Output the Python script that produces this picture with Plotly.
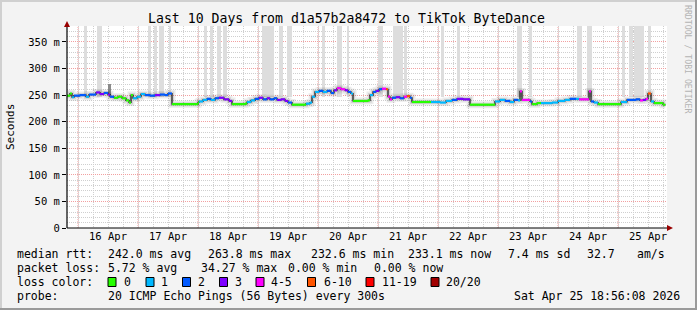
import plotly.graph_objects as go
import pandas as pd

# ---------------- data ----------------
BASE = pd.Timestamp("2026-04-16 00:00")      # hour 0
END_H = 234.93                               # Sat Apr 25 18:56
VIEW_H = (-4.4, 235.6)

# median rtt steps: start hour (from Apr 16 00:00), value (ms), loss class
seg_hour = [-5.1, -3.2, -2.4, -1.6, 0.8, 3.2, 4.4, 7.2, 8.8, 10.4, 12.0, 12.8, 14.4, 16.0, 17.6,
            19.2, 20.4, 21.2, 22.0, 23.6, 25.2, 26.8, 28.8, 30.8, 32.8, 34.8, 36.0, 37.6, 48.0,
            48.4, 50.0, 51.6, 53.2, 54.8, 56.4, 58.4, 60.4, 61.6, 66.8, 67.6, 69.2, 70.8, 72.4,
            74.0, 75.6, 76.8, 78.4, 79.6, 81.2, 82.8, 84.0, 85.6, 91.2, 92.8, 93.6, 94.8, 96.4,
            98.0, 99.6, 101.2, 102.4, 103.6, 105.2, 106.8, 108.0, 109.2, 110.0, 116.0, 116.8,
            118.0, 119.2, 120.4, 121.6, 123.2, 124.0, 124.8, 125.6, 127.2, 128.8, 130.4, 131.6,
            132.8, 133.6, 141.2, 144.8, 147.2, 149.6, 151.6, 154.0, 156.8, 166.8, 168.8, 170.8,
            172.8, 174.4, 176.0, 176.8, 177.6, 180.8, 181.6, 183.6, 185.2, 189.6, 192.0, 194.8,
            196.8, 199.2, 200.4, 204.4, 205.2, 206.4, 208.0, 216.0, 217.2, 219.6, 223.2, 224.8,
            226.0, 227.2, 228.0, 229.2, 230.4, 232.8, 234.0]
seg_ms = [249, 253, 246, 249, 250, 247, 251, 255, 252, 254, 251, 247, 245, 247, 244,
          240, 236, 250, 244, 247, 252, 250, 249, 250, 251, 250, 253, 233, 236,
          238, 241, 243, 241, 244, 245, 242, 239, 233, 234, 237, 240, 243, 245,
          242, 244, 242, 244, 241, 242, 239, 236, 232, 234, 236, 247, 256, 258,
          256, 258, 254, 259, 263, 261, 259, 256, 253, 239, 240, 250,
          256, 258, 261, 262, 261, 247, 242, 245, 246, 244, 247, 248,
          245, 237, 237, 236, 239, 241, 243, 242, 232, 238, 241, 239,
          237, 241, 240, 257, 241, 238, 233, 235, 235, 236, 239, 241,
          243, 243, 242, 257, 238, 236, 233, 233, 237, 241, 242, 240,
          241, 243, 253, 238, 235, 235, 232]
seg_loss = [0, 0, 1, 2, 2, 1, 2, 3, 3, 2, 3, 2, 0, 0, 0,
            0, 0, 0, 1, 1, 1, 2, 2, 3, 2, 2, 2, 0, 0,
            1, 1, 2, 1, 2, 3, 3, 3, 0, 0, 1, 1, 2, 3,
            2, 3, 2, 2, 3, 3, 3, 2, 0, 1, 1, 1, 1, 2,
            1, 2, 2, 3, 4, 4, 3, 2, 1, 0, 0, 1,
            2, 3, 2, 4, 5, 4, 4, 2, 3, 2, 4, 5,
            2, 0, 1, 1, 1, 2, 3, 3, 0, 1, 1, 2,
            1, 2, 1, 4, 4, 2, 0, 0, 1, 1, 1, 1,
            2, 1, 4, 4, 2, 1, 0, 0, 1, 2, 2, 4,
            3, 4, 5, 1, 0, 0, 0]
assert len(seg_hour) == len(seg_ms) == len(seg_loss)

# tall smoke columns (hours from Apr 16 00:00)
smoke_start = [2.4, 7.6, 28.0, 30.4, 32.4, 36.4, 50.4, 52.8, 55.6, 58.0, 73.6, 80.4, 83.6, 97.6,
               103.6, 107.6, 120.0, 126.0, 130.4, 145.2, 151.6, 175.6, 180.4, 199.6, 203.6,
               217.6, 220.4, 222.4, 228.0]
smoke_end = [3.6, 9.6, 29.2, 31.6, 34.4, 37.2, 51.6, 54.0, 57.2, 59.6, 78.4, 82.0, 85.6, 98.8,
             105.6, 108.4, 122.0, 130.0, 131.6, 146.4, 152.8, 177.6, 181.6, 201.6, 205.6,
             218.8, 222.0, 226.4, 229.2]
smoke_floor = 246
smoke_ceiling = 380
spike_hours = [12.0, 13.2]
spike_ms = [250, 270]

loss_labels = ["0", "1", "2", "3", "4-5", "6-10", "11-19", "20/20"]
loss_colors = ["#26ff00", "#00b8ff", "#0059ff", "#7e00ff", "#ff00ff", "#ff5500", "#ff0000", "#a10000"]

y_ticks = [0, 50, 100, 150, 200, 250, 300, 350]
y_ticktext = ["0", "50 m", "100 m", "150 m", "200 m", "250 m", "300 m", "350 m"]
day_labels = ["16 Apr", "17 Apr", "18 Apr", "19 Apr", "20 Apr", "21 Apr", "22 Apr", "23 Apr", "24 Apr", "25 Apr"]

title_text = "Last 10 Days from d1a57b2a8472 to TikTok ByteDance"
row1 = ["median rtt:", "242.0 ms avg", "263.8 ms max", "232.6 ms min", "233.1 ms now", "7.4 ms sd", "32.7", "am/s"]
row2 = ["packet loss:", "5.72 % avg", "34.27 % max", "0.00 % min", "0.00 % now"]
row4 = ["probe:", "20 ICMP Echo Pings (56 Bytes) every 300s", "Sat Apr 25 18:56:08 2026"]

# ---------------- layout constants ----------------
W, H = 697, 310
ML, MR, MT, MB = 67, 30, 26, 82
PW, PH = W - ML - MR, H - MT - MB
FONT = "DejaVu Sans Mono"
BG = "#f3f3f3"


def px(x):
    return (x - ML) / PW


def py(y):
    return (H - MB - y) / PH


def T(h):
    return BASE + pd.to_timedelta(h, unit="h")


fig = go.Figure()

# tall smoke columns
fig.add_trace(go.Bar(
    x=[T((a + b) / 2) for a, b in zip(smoke_start, smoke_end)],
    width=[(b - a) * 3600 * 1000 for a, b in zip(smoke_start, smoke_end)],
    y=[smoke_ceiling - smoke_floor] * len(smoke_start), base=smoke_floor,
    marker=dict(color="#dddddd", line=dict(width=0)), hoverinfo="skip", showlegend=False))
fig.add_trace(go.Bar(
    x=[T(sum(spike_hours) / 2)], width=[(spike_hours[1] - spike_hours[0]) * 3600 * 1000],
    y=[spike_ms[1] - spike_ms[0]], base=spike_ms[0],
    marker=dict(color="#8a8a8a", line=dict(width=0)), hoverinfo="skip", showlegend=False))

# step line points
step_x = [T(h) for h in seg_hour] + [T(END_H)]
step_y = seg_ms + [seg_ms[-1]]

# smoke around median
fig.add_trace(go.Scatter(x=step_x, y=step_y, mode="lines", line=dict(shape="hv", width=7, color="rgba(0,0,0,0.08)"),
                         hoverinfo="skip", showlegend=False))
fig.add_trace(go.Scatter(x=step_x, y=step_y, mode="lines", line=dict(shape="hv", width=4, color="rgba(0,0,0,0.10)"),
                         hoverinfo="skip", showlegend=False))
# black median step line
fig.add_trace(go.Scatter(x=step_x, y=step_y, mode="lines", line=dict(shape="hv", width=1.1, color="#000"),
                         hoverinfo="skip", showlegend=False))

# coloured horizontal segments per loss class
bounds = seg_hour + [END_H]
for k, col in enumerate(loss_colors):
    xs, ys = [], []
    for i, c in enumerate(seg_loss):
        if c == k:
            xs += [T(bounds[i]), T(bounds[i + 1]), None]
            ys += [seg_ms[i], seg_ms[i], None]
    if xs:
        fig.add_trace(go.Scatter(x=xs, y=ys, mode="lines", line=dict(width=2.2, color=col),
                                 hoverinfo="skip", showlegend=False))

shapes = []
# midnight (major) vertical grid
for d in range(0, 10):
    shapes.append(dict(type="line", xref="x", yref="paper", x0=T(24 * d), x1=T(24 * d), y0=0, y1=1,
                       line=dict(color="#f2a0a0", width=1, dash="1px,1px"), layer="below"))
# axes
shapes.append(dict(type="line", xref="paper", yref="paper", x0=0, x1=px(668), y0=0, y1=0,
                   line=dict(color="#000", width=1.2)))
shapes.append(dict(type="line", xref="paper", yref="paper", x0=0, x1=0, y0=0, y1=py(23),
                   line=dict(color="#000", width=1.2)))
shapes.append(dict(type="path", xref="paper", yref="paper",
                   path=f"M {px(667)},{py(225)} L {px(673)},{py(228)} L {px(667)},{py(231)} Z",
                   fillcolor="#990000", line=dict(width=0)))
shapes.append(dict(type="path", xref="paper", yref="paper",
                   path=f"M {px(64)},{py(27)} L {px(67)},{py(21)} L {px(70)},{py(27)} Z",
                   fillcolor="#990000", line=dict(width=0)))
# frame shading
shapes.append(dict(type="rect", xref="paper", yref="paper", x0=px(0), x1=px(W), y0=py(H), y1=py(H - 2),
                   fillcolor="#9a9a9a", line=dict(width=0)))
shapes.append(dict(type="rect", xref="paper", yref="paper", x0=px(W - 2), x1=px(W), y0=py(H), y1=py(0),
                   fillcolor="#9a9a9a", line=dict(width=0)))
shapes.append(dict(type="rect", xref="paper", yref="paper", x0=px(0), x1=px(W - 2), y0=py(2), y1=py(0),
                   fillcolor="#d0d0d0", line=dict(width=0)))
shapes.append(dict(type="rect", xref="paper", yref="paper", x0=px(0), x1=px(2), y0=py(H - 2), y1=py(0),
                   fillcolor="#d0d0d0", line=dict(width=0)))

# legend swatches
sw_x = [108, 146, 182.5, 219.5, 256, 307.5, 366, 431]
for xx, col in zip(sw_x, loss_colors):
    shapes.append(dict(type="rect", xref="paper", yref="paper", x0=px(xx), x1=px(xx + 8),
                       y0=py(286.5), y1=py(277.5), fillcolor=col, line=dict(color="#000", width=1)))

ann = []


def txt(s, x, y, size=11.5, color="#000", xanchor="left", angle=0):
    ann.append(dict(text=s, x=px(x), y=py(y), xref="paper", yref="paper", showarrow=False,
                    xanchor=xanchor, yanchor="middle", textangle=angle,
                    font=dict(family=FONT, size=size, color=color), borderpad=0))


txt(title_text, 346.5, 19, size=13.2, xanchor="center")
txt("Seconds", 10, 127, size=11, xanchor="center", angle=-90)
txt("RRDTOOL / TOBI OETIKER", 688, 59, size=8.2, color="#b4b4b4", xanchor="center", angle=90)

row1_x = [16, 107.3, 207.3, 310, 407.3, 507.3, 586, 636]
row2_x = [16, 107.3, 199.5, 287.3, 372.7]
row4_x = [16, 107.3, 513.3]
for s, x in zip(row1, row1_x):
    txt(s, x, 254.5)
for s, x in zip(row2, row2_x):
    txt(s, x, 268.2)
txt("loss color:", 16, 282.2)
lab_x = [123.3, 160, 197, 233.7, 270, 323, 380.7, 445]
for s, x in zip(loss_labels, lab_x):
    txt(s, x, 282.2)
for s, x in zip(row4, row4_x):
    txt(s, x, 295.8)

fig.update_layout(
    width=W, height=H, margin=dict(l=ML, r=MR, t=MT, b=MB),
    paper_bgcolor=BG, plot_bgcolor="#ffffff",
    barmode="overlay", bargap=0, showlegend=False,
    shapes=shapes, annotations=ann,
    xaxis=dict(type="date", range=[T(VIEW_H[0]), T(VIEW_H[1])],
               tickmode="array", tickvals=[T(24 * d + 12) for d in range(10)], ticktext=day_labels,
               showgrid=True, gridcolor="#cfcfcf", griddash="1px,1px", gridwidth=1,
               minor=dict(dtick=6 * 3600 * 1000, tick0=T(0), showgrid=True, gridcolor="#cfcfcf",
                          griddash="1px,1px", gridwidth=1),
               ticks="", showline=False, zeroline=False,
               tickfont=dict(family=FONT, size=10.5, color="#000"), fixedrange=True),
    yaxis=dict(range=[0, 380], tickmode="array", tickvals=y_ticks, ticktext=y_ticktext,
               showgrid=True, gridcolor="#f2a0a0", griddash="1px,1px", gridwidth=1,
               minor=dict(dtick=10, tick0=0, showgrid=True, gridcolor="#cfcfcf", griddash="1px,1px", gridwidth=1),
               ticks="outside", ticklen=4, tickcolor="#000", showline=False, zeroline=False,
               tickfont=dict(family=FONT, size=10.5, color="#000"), fixedrange=True),
)

fig.write_html("out.html", config={"displayModeBar": False})
